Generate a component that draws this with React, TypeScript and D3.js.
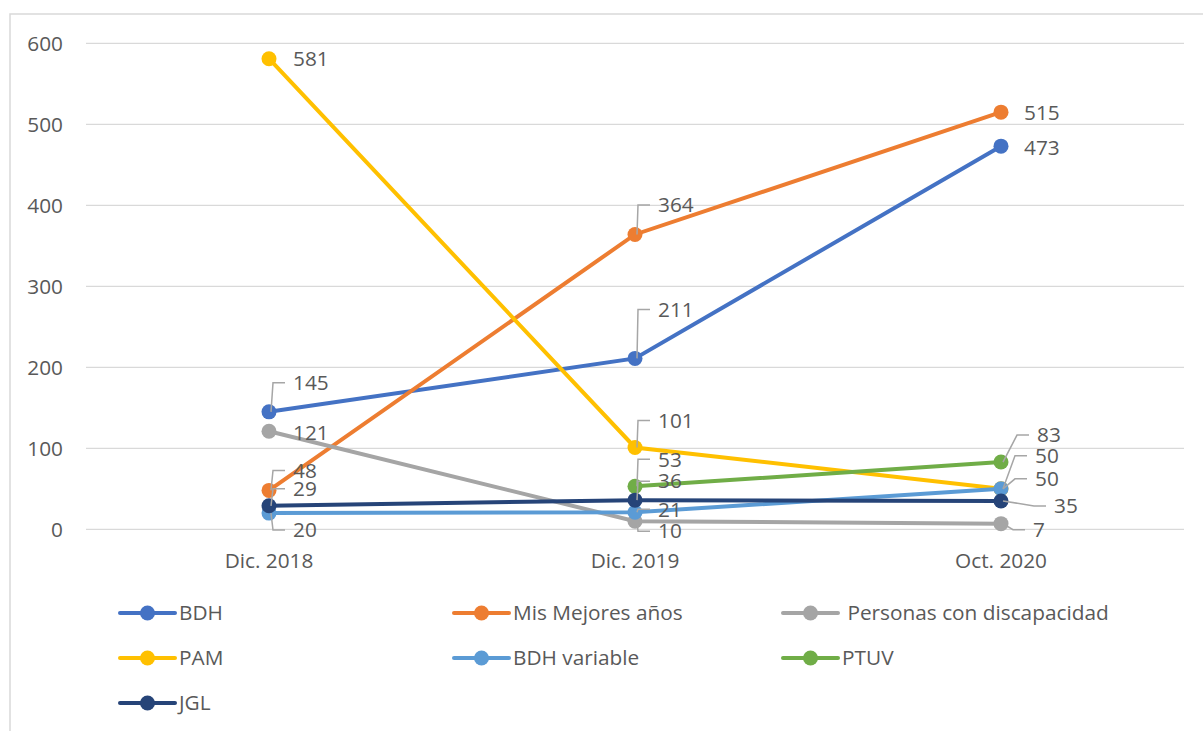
import React from "react";
import * as d3 from "d3";

const categories = ["Dic. 2018", "Dic. 2019", "Oct. 2020"];
const seriesNames = [
  "BDH",
  "Mis Mejores años",
  " Personas con discapacidad",
  "PAM",
  "BDH variable",
  "PTUV",
  "JGL",
];
const bdh = [145, 211, 473];
const misMejores = [48, 364, 515];
const discapacidad = [121, 10, 7];
const pam = [581, 101, 50];
const bdhVariable = [20, 21, 50];
const ptuv: (number | null)[] = [null, 53, 83];
const jgl = [29, 36, 35];
const yTicks = [0, 100, 200, 300, 400, 500, 600];

const seriesValues: (number | null)[][] = [bdh, misMejores, discapacidad, pam, bdhVariable, ptuv, jgl];
const colors = ["#4472C4", "#ED7D31", "#A5A5A5", "#FFC000", "#5B9BD5", "#70AD47", "#264478"];

// label placement (offsets from the point, in px) for each series / category
type LP = { dx: number; dy: number; leader: boolean } | null;
const labelPlacement: LP[][] = [
  [{ dx: 24, dy: -29, leader: true }, { dx: 23, dy: -49, leader: true }, { dx: 23, dy: 2, leader: false }],
  [{ dx: 24, dy: -20, leader: true }, { dx: 23, dy: -29.5, leader: true }, { dx: 23, dy: 1, leader: false }],
  [{ dx: 24, dy: 1, leader: false }, { dx: 23, dy: 10, leader: true }, { dx: 32, dy: 6, leader: true }],
  [{ dx: 24, dy: 0, leader: false }, { dx: 23, dy: -27, leader: true }, { dx: 34, dy: -33, leader: true }],
  [{ dx: 24, dy: 17, leader: true }, { dx: 23, dy: -3, leader: true }, { dx: 34, dy: -10, leader: true }],
  [null, { dx: 23, dy: -27, leader: true }, { dx: 36, dy: -27, leader: true }],
  [{ dx: 24, dy: -17, leader: true }, { dx: 23, dy: -19, leader: true }, { dx: 53, dy: 5, leader: true }],
];

const W = 1203;
const H = 731;
const FONT = "'Open Sans', 'Noto Sans', sans-serif";
const TEXT = "#595959";
const FS = 20.8;

export default function App() {
  const x = d3.scaleBand<string>().domain(categories).range([86, 1184]);
  const cx = (c: string) => (x(c) as number) + x.bandwidth() / 2;
  const y = d3.scaleLinear().domain([0, 600]).range([529.3, 43.3]);

  const line = d3
    .line<{ c: string; v: number | null }>()
    .defined((d) => d.v !== null)
    .x((d) => cx(d.c))
    .y((d) => y(d.v as number));

  const legendCol = d3.scaleLinear().domain([0, 1, 2]).range([120, 454, 783]);
  const legendRow = d3.scaleLinear().domain([0, 1, 2]).range([613, 658, 703]);

  return (
    <svg
      width={W}
      height={H}
      style={{ position: "absolute", left: 0, top: 0, background: "#fff" }}
      fontFamily={FONT}
    >
      <rect x={10} y={14} width={1300} height={800} fill="#fff" stroke="#D9D9D9" strokeWidth={1.5} />
      {yTicks.map((t) => (
        <g key={t}>
          <line x1={86} x2={1184} y1={y(t)} y2={y(t)} stroke="#D9D9D9" strokeWidth={1.3} />
          <text x={63} y={y(t)} dy="0.35em" textAnchor="end" fontSize={FS} fill={TEXT}>
            {t}
          </text>
        </g>
      ))}
      {categories.map((c) => (
        <text key={c} x={cx(c)} y={561} dy="0.35em" textAnchor="middle" fontSize={FS} fill={TEXT}>
          {c}
        </text>
      ))}
      {seriesValues.map((vals, si) => {
        const pts = categories.map((c, i) => ({ c, v: vals[i] }));
        return (
          <g key={si}>
            <path d={line(pts) || ""} fill="none" stroke={colors[si]} strokeWidth={4} strokeLinecap="round" />
            {pts
              .filter((p) => p.v !== null)
              .map((p) => (
                <circle key={p.c} cx={cx(p.c)} cy={y(p.v as number)} r={7.5} fill={colors[si]} />
              ))}
          </g>
        );
      })}
      {seriesValues.map((vals, si) =>
        categories.map((c, i) => {
          const v = vals[i];
          const lp = labelPlacement[si][i];
          if (v === null || !lp) return null;
          const px = cx(c);
          const py = y(v);
          const tx = px + lp.dx;
          const ty = py + lp.dy;
          return (
            <g key={`${si}-${i}`}>
              {lp.leader && (
                <polyline
                  points={`${px + 2},${py} ${tx - 20},${ty} ${tx - 8},${ty}`}
                  fill="none"
                  stroke="#A6A6A6"
                  strokeWidth={1.5}
                />
              )}
              <text x={tx} y={ty} dy="0.35em" fontSize={FS} fill={TEXT}>
                {v}
              </text>
            </g>
          );
        })
      )}
      {seriesNames.map((name, si) => {
        const col = si % 3;
        const row = Math.floor(si / 3);
        const lx = legendCol(col);
        const ly = legendRow(row);
        return (
          <g key={name}>
            <line x1={lx} x2={lx + 55} y1={ly} y2={ly} stroke={colors[si]} strokeWidth={4} strokeLinecap="round" />
            <circle cx={lx + 27.5} cy={ly} r={7.5} fill={colors[si]} />
            <text x={lx + 59} y={ly} dy="0.35em" fontSize={FS} fill={TEXT} style={{ whiteSpace: "pre" }}>
              {name}
            </text>
          </g>
        );
      })}
    </svg>
  );
}
